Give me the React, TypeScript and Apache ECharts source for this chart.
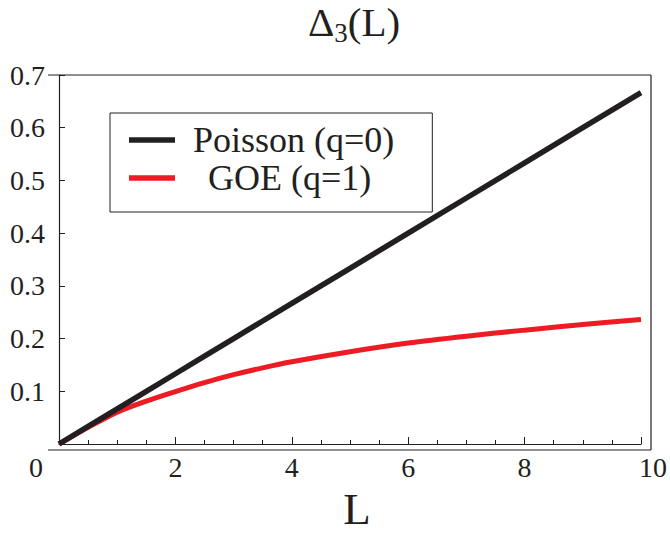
import React, { useEffect, useRef } from "react";
import * as echarts from "echarts";

const FONT = "Liberation Serif";
const INK = "#231f20";
const RED = "#ed1c24";

// L values and curves
const lValues = [0, 0.5, 1, 1.5, 2, 2.5, 3, 3.5, 4, 5, 6, 7, 8, 9, 10];
const poissonValues = [0, 0.0333, 0.0667, 0.1, 0.1333, 0.1667, 0.2, 0.2333, 0.2667, 0.3333, 0.4, 0.4667, 0.5333, 0.6, 0.6667];
const goeValues = [0, 0.0315, 0.0605, 0.0815, 0.0995, 0.1165, 0.1315, 0.1445, 0.156, 0.175, 0.1915, 0.2045, 0.216, 0.2265, 0.2363];

const seriesNames = ["Poisson (q=0)", "GOE (q=1)"];
const xTicks = [0, 2, 4, 6, 8, 10];
const yTicks = [0.1, 0.2, 0.3, 0.4, 0.5, 0.6, 0.7];

export default function App() {
  const ref = useRef<HTMLDivElement>(null);
  useEffect(() => {
    if (!ref.current) return;
    const chart = echarts.init(ref.current, null, { renderer: "svg" });
    const pairs = (ys: number[]) => lValues.map((x, i) => [x, ys[i]]);
    const base = { fontFamily: FONT, color: INK, fontWeight: "normal" as const };
    chart.setOption({
      animation: false,
      backgroundColor: "#ffffff",
      textStyle: { fontFamily: FONT, color: INK },
      title: {
        text: "{m|Δ}{s|3}{m|(L)}",
        left: 308,
        top: 1,
        padding: 0,
        textStyle: {
          ...base,
          fontSize: 41,
          rich: {
            m: { ...base, fontSize: 41, lineHeight: 41, verticalAlign: "top" },
            s: { ...base, fontSize: 27, lineHeight: 26, padding: [22, 0, 0, 0] },
          },
        },
      },
      legend: {
        orient: "vertical",
        left: 110,
        top: 113,
        data: seriesNames,
        icon: "rect",
        itemWidth: 46,
        itemHeight: 5.5,
        itemGap: 2,
        selectedMode: false,
        borderColor: INK,
        borderWidth: 1,
        borderRadius: 0,
        padding: [9, 38, 16, 19],
        formatter: (n: string) => (n === "GOE (q=1)" ? "{g|" + n + "}" : "{p|" + n + "}"),
        textStyle: {
          ...base,
          fontSize: 36,
          lineHeight: 30,
          rich: {
            p: { ...base, fontSize: 36, lineHeight: 30, padding: [0, 0, 0, 13] },
            g: { ...base, fontSize: 36, lineHeight: 30, padding: [0, 0, 0, 28] },
          },
        },
      },
      grid: { left: 59, top: 75, width: 584, height: 375, containLabel: false },
      xAxis: {
        type: "value",
        min: xTicks[0],
        max: xTicks[xTicks.length - 1],
        interval: 2,
        name: "L",
        nameLocation: "middle",
        nameGap: 42,
        nameTextStyle: { ...base, fontSize: 45, padding: [0, 0, 0, 14] },
        axisLine: { show: true, lineStyle: { color: INK, width: 1.2 } },
        axisTick: { show: true, inside: true, length: 7, lineStyle: { color: INK, width: 1 } },
        minorTick: { show: true, splitNumber: 4, length: 4, lineStyle: { color: INK, width: 1 } },
        splitLine: { show: false },
        axisLabel: {
          ...base,
          margin: 9,
          fontSize: 28,
          formatter: (v: number) => (v === 0 ? "{l|0}" : v === 10 ? "{r|10}" : "{n|" + v + "}"),
          rich: {
            n: { ...base, fontSize: 28 },
            l: { ...base, fontSize: 28, padding: [0, 46, 0, 0] },
            r: { ...base, fontSize: 28, padding: [0, 0, 0, 24] },
          },
        },
      },
      yAxis: {
        type: "value",
        min: 0,
        max: yTicks[yTicks.length - 1],
        interval: 0.1,
        axisLine: { show: true, lineStyle: { color: INK, width: 1.2 } },
        axisTick: { show: true, inside: true, length: 6, lineStyle: { color: INK, width: 1 } },
        splitLine: { show: false },
        axisLabel: {
          ...base,
          margin: 14,
          fontSize: 28,
          formatter: (v: number) => (v === 0 ? "" : "{n|" + v.toFixed(1) + "}"),
          rich: { n: { ...base, fontSize: 28 } },
        },
      },
      graphic: [
        { type: "line", shape: { x1: 48, y1: 75, x2: 651, y2: 75 }, style: { stroke: INK, lineWidth: 1.2 }, z: 10 },
        { type: "line", shape: { x1: 651, y1: 75, x2: 651, y2: 450 }, style: { stroke: INK, lineWidth: 1.2 }, z: 10 },
        { type: "line", shape: { x1: 48, y1: 450, x2: 651, y2: 450 }, style: { stroke: INK, lineWidth: 1.2 }, z: 10 },
      ],
      series: [
        {
          name: seriesNames[1],
          type: "line",
          data: pairs(goeValues),
          smooth: 0.3,
          showSymbol: false,
          symbol: "none",
          color: RED,
          itemStyle: { color: RED },
          lineStyle: { color: RED, width: 5 },
          z: 3,
        },
        {
          name: seriesNames[0],
          type: "line",
          data: pairs(poissonValues),
          showSymbol: false,
          symbol: "none",
          color: INK,
          itemStyle: { color: INK },
          lineStyle: { color: INK, width: 5.5 },
          z: 4,
        },
      ],
    });
    return () => chart.dispose();
  }, []);
  return (
    <div
      ref={ref}
      style={{ position: "absolute", left: 0, top: 0, width: 670, height: 536, background: "#fff" }}
    />
  );
}
